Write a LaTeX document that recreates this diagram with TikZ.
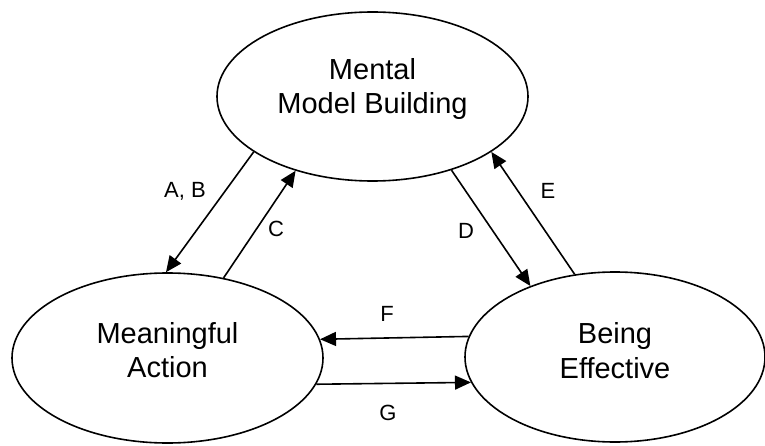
\documentclass[tikz,border=0pt]{standalone}
\usepackage{fontspec}
\setmainfont{Liberation Sans}
\usetikzlibrary{arrows.meta,shapes.geometric}
\begin{document}
\begin{tikzpicture}[x=1pt,y=1pt,
  bubble/.style={ellipse, draw, line width=1.6pt, inner sep=0pt},
  bigtext/.style={font=\fontsize{29}{34.5}\selectfont, align=center, inner sep=0pt},
  lbl/.style={font=\fontsize{22}{26}\selectfont, inner sep=0pt},
  conn/.style={line width=1.6pt, -{Triangle[length=16pt,width=14pt]}}]
\useasboundingbox (0,0) rectangle (765,445);
% ellipses
\node[bubble, minimum width=311pt, minimum height=169pt] (mmb) at (372.5,348.5) {};
\node[bubble, minimum width=311pt, minimum height=170pt] (ma) at (167.5,87) {};
\node[bubble, minimum width=300pt, minimum height=170pt] (be) at (615,88) {};
% texts
\node[bigtext] (mmbt) at (372.5,356) {Mental\\Model Building};
\node[bigtext] (mat) at (167.5,95) {Meaningful\\Action};
\node[bigtext] (bet) at (615,94.5) {Being\\Effective};
% connectors
\draw[conn] (mmb.205.7) -- (ma.91);
\draw[conn] (ma.55.7) -- (mmb.224.6);
\draw[conn] (mmb.317.6) -- (be.140.5);
\draw[conn] (be.116.8) -- (mmb.335.1);
\draw[conn] (be.172.3) -- (ma.7.7);
\draw[conn] (ma.350.3) -- (be.190.4);
% labels
\node[lbl] (lab) at (185,254) {A, B};
\node[lbl] (lc) at (276,216) {C};
\node[lbl] (ld) at (466,214) {D};
\node[lbl] (le) at (548,254) {E};
\node[lbl] (lf) at (387,131) {F};
\node[lbl] (lg) at (388,32) {G};
\end{tikzpicture}
\end{document}
